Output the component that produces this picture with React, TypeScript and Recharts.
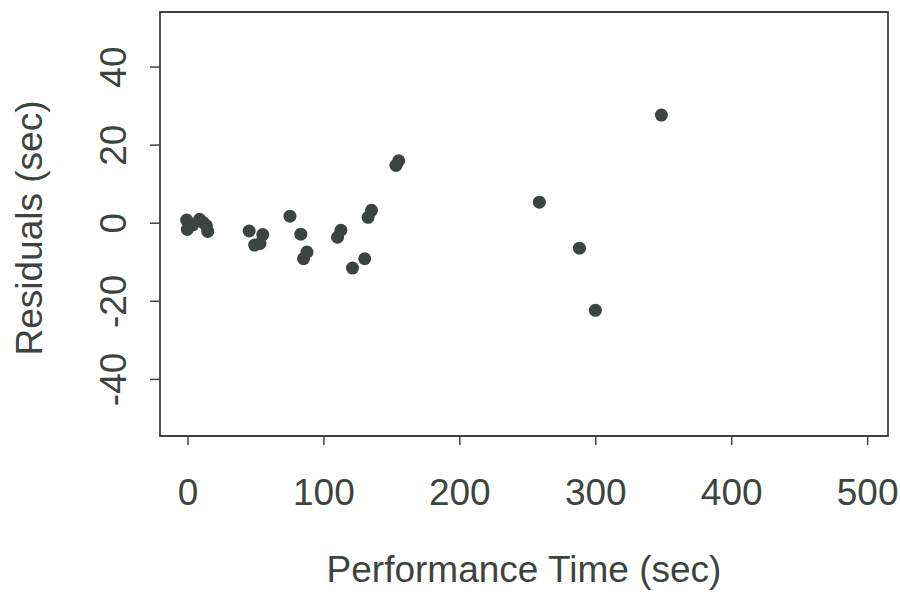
import { ScatterChart, Scatter, XAxis, YAxis, ReferenceArea } from "recharts";

// performance time (sec) and residual (sec)
const perfTime = [
  -1, -0.5, 3.5, 8.5, 11, 13.5, 14.5,
  45, 49, 53, 55, 75, 83, 85, 87.5,
  110, 112.5, 121, 130, 132.5, 135, 153, 155,
  258.5, 288, 299.7, 348.3,
];
const residuals = [
  0.8, -1.6, -0.4, 1.0, 0.2, -0.6, -2.1,
  -2.0, -5.6, -5.2, -2.9, 1.8, -2.8, -9.1, -7.4,
  -3.6, -1.8, -11.5, -9.1, 1.5, 3.3, 14.8, 16.0,
  5.4, -6.4, -22.3, 27.7,
];
const xTicks = [0, 100, 200, 300, 400, 500];
const yTicks = [-40, -20, 0, 20, 40];

const X_DOMAIN: [number, number] = [-20.6, 515];
const Y_DOMAIN: [number, number] = [-54.5, 54.1];

const INK = "#3d433f";
const FONT = "'Liberation Sans', Arial, sans-serif";

const points = perfTime.map((t, i) => ({ t, r: residuals[i] }));

function XTick({ x, y, payload }: any) {
  return (
    <text x={x} y={y} dy="0.71em" textAnchor="middle" fill={INK} fontSize={37} fontFamily={FONT}>
      {payload.value}
    </text>
  );
}

function YTick({ x, y, payload }: any) {
  return (
    <text x={x} y={y} textAnchor="middle" fill={INK} fontSize={37} fontFamily={FONT} transform={`rotate(-90, ${x}, ${y})`}>
      {payload.value}
    </text>
  );
}

export default function App() {
  return (
    <div style={{ position: "absolute", left: 0, top: 0, background: "#fff" }}>
      <ScatterChart width={900} height={594} margin={{ top: 12, right: 12, left: 0, bottom: 0 }}>
        <XAxis
          type="number"
          dataKey="t"
          domain={X_DOMAIN}
          ticks={xTicks}
          allowDataOverflow
          height={158}
          axisLine={false}
          tickSize={9}
          tickMargin={34}
          tickLine={{ stroke: INK, strokeWidth: 1.5 }}
          tick={<XTick />}
          label={({ viewBox }: any) => (
            <text x={viewBox.x + viewBox.width / 2} y={viewBox.y + 146} textAnchor="middle" fill={INK} fontSize={37} fontFamily={FONT}>
              Performance Time (sec)
            </text>
          )}
        />
        <YAxis
          type="number"
          dataKey="r"
          domain={Y_DOMAIN}
          ticks={yTicks}
          allowDataOverflow
          width={160}
          axisLine={false}
          tickSize={10}
          tickMargin={24}
          tickLine={{ stroke: INK, strokeWidth: 1.5 }}
          tick={<YTick />}
          label={({ viewBox }: any) => {
            const cx = viewBox.x + 42;
            const cy = viewBox.y + viewBox.height / 2 + 4;
            return (
              <text x={cx} y={cy} textAnchor="middle" fill={INK} fontSize={37} fontFamily={FONT} transform={`rotate(-90, ${cx}, ${cy})`}>
                Residuals (sec)
              </text>
            );
          }}
        />
        <ReferenceArea
          x1={X_DOMAIN[0]}
          x2={X_DOMAIN[1]}
          y1={Y_DOMAIN[0]}
          y2={Y_DOMAIN[1]}
          fill="none"
          stroke={INK}
          strokeWidth={1.8}
          ifOverflow="visible"
        />
        <Scatter
          data={points}
          isAnimationActive={false}
          shape={({ cx, cy }: any) => <circle cx={cx} cy={cy} r={6.5} fill={INK} />}
        />
      </ScatterChart>
    </div>
  );
}
